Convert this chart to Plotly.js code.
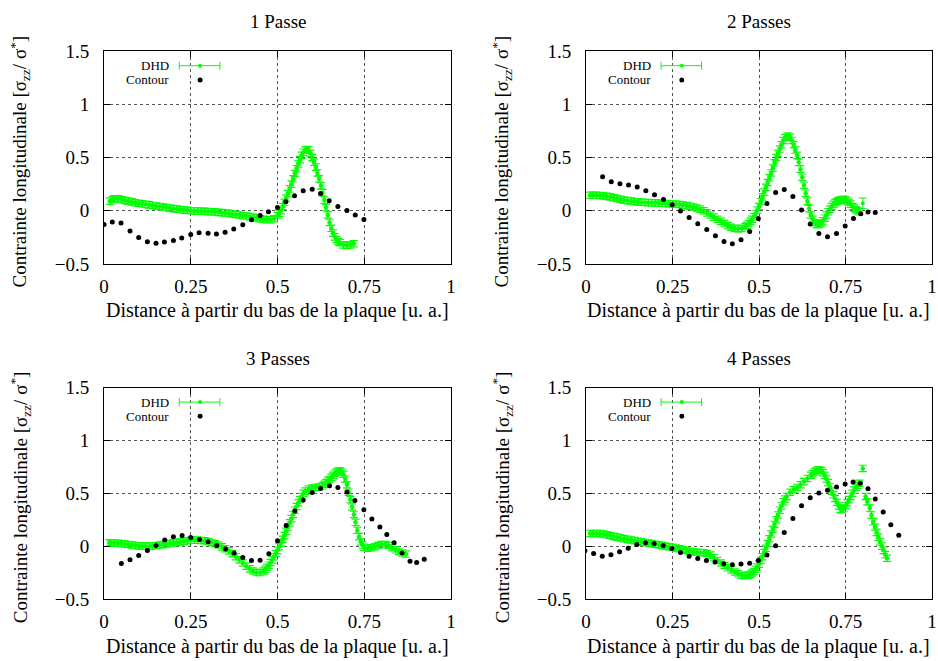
<!DOCTYPE html>
<html>
<head>
<meta charset="utf-8">
<script src="https://cdn.plot.ly/plotly-3.0.1.min.js"></script>
<style>html,body{margin:0;padding:0;background:#fff;}#chart{width:938px;height:661px;}</style>
</head>
<body>
<div id="chart"></div>
<script>
// ---------- data ----------
const panelTitles = ["1 Passe", "2 Passes", "3 Passes", "4 Passes"];
const xTickVals = [0, 0.25, 0.5, 0.75, 1];
const xTickText = ["0", "0.25", "0.5", "0.75", "1"];
const yTickVals = [-0.5, 0, 0.5, 1, 1.5];
const yTickText = ["\u22120.5", "0", "0.5", "1", "1.5"];
const xTitle = "Distance à partir du bas de la plaque [u. a.]";
const yTitle = "Contrainte longitudinale [σ<sub>zz</sub>/ σ<sup>*</sup>]";
const legendNames = ["DHD", "Contour"];
const dhdError = 0.03;

// Panel 1
const dhd1X = [0.017,0.025,0.03,0.04,0.05,0.06,0.07,0.08,0.09,0.10,0.11,0.12,0.13,0.14,0.15,0.16,0.17,0.18,0.19,0.20,0.21,0.22,0.23,0.24,0.25,0.26,0.27,0.28,0.29,0.30,0.31,0.32,0.33,0.34,0.35,0.36,0.37,0.38,0.39,0.40,0.41,0.42,0.43,0.44,0.45,0.46,0.47,0.48,0.49,0.50,0.505,0.51,0.515,0.52,0.525,0.53,0.535,0.54,0.545,0.55,0.555,0.56,0.565,0.57,0.575,0.58,0.585,0.59,0.595,0.60,0.605,0.61,0.615,0.62,0.625,0.63,0.635,0.64,0.645,0.65,0.655,0.66,0.665,0.67,0.675,0.68,0.69,0.70,0.71,0.72];
const dhd1Y = [0.09,0.105,0.113,0.113,0.105,0.097,0.09,0.083,0.075,0.07,0.065,0.06,0.055,0.05,0.045,0.04,0.035,0.03,0.025,0.02,0.015,0.011,0.008,0.004,0.0,-0.002,-0.003,-0.004,-0.005,-0.008,-0.01,-0.012,-0.015,-0.018,-0.02,-0.025,-0.03,-0.035,-0.04,-0.045,-0.05,-0.055,-0.06,-0.068,-0.075,-0.08,-0.085,-0.085,-0.075,-0.045,-0.025,0.0,0.04,0.08,0.12,0.16,0.205,0.25,0.30,0.35,0.395,0.44,0.48,0.52,0.55,0.57,0.575,0.57,0.54,0.50,0.455,0.41,0.355,0.30,0.235,0.17,0.10,0.03,-0.04,-0.11,-0.165,-0.21,-0.245,-0.27,-0.29,-0.30,-0.32,-0.325,-0.32,-0.31];
const con1X = [0.0,0.024,0.049,0.075,0.10,0.125,0.15,0.174,0.20,0.224,0.25,0.274,0.30,0.324,0.349,0.374,0.40,0.425,0.45,0.474,0.50,0.524,0.549,0.574,0.60,0.624,0.649,0.674,0.70,0.724,0.749];
const con1Y = [-0.128,-0.106,-0.116,-0.19,-0.25,-0.29,-0.306,-0.294,-0.28,-0.256,-0.222,-0.206,-0.212,-0.219,-0.203,-0.172,-0.131,-0.084,-0.044,-0.009,0.031,0.084,0.14,0.188,0.203,0.163,0.094,0.04,0.003,-0.04,-0.081];

// Panel 2
const dhd2X = [0.012,0.02,0.03,0.04,0.05,0.06,0.07,0.08,0.09,0.10,0.11,0.12,0.13,0.14,0.15,0.16,0.17,0.18,0.19,0.20,0.21,0.22,0.23,0.24,0.25,0.26,0.27,0.28,0.29,0.30,0.31,0.32,0.33,0.34,0.35,0.36,0.37,0.38,0.39,0.40,0.41,0.42,0.43,0.44,0.45,0.46,0.465,0.47,0.475,0.48,0.485,0.49,0.495,0.50,0.505,0.51,0.515,0.52,0.525,0.53,0.535,0.54,0.545,0.55,0.555,0.56,0.565,0.57,0.575,0.58,0.585,0.59,0.595,0.60,0.605,0.61,0.615,0.62,0.625,0.63,0.635,0.64,0.645,0.65,0.655,0.66,0.665,0.67,0.675,0.68,0.685,0.69,0.695,0.70,0.705,0.71,0.715,0.72,0.725,0.73,0.735,0.74,0.745,0.75,0.755,0.76,0.765,0.77,0.775,0.78,0.785,0.79];
const dhd2Y = [0.145,0.145,0.145,0.143,0.14,0.135,0.13,0.122,0.115,0.107,0.10,0.095,0.09,0.086,0.083,0.08,0.078,0.076,0.075,0.074,0.072,0.07,0.068,0.066,0.064,0.061,0.058,0.053,0.048,0.042,0.035,0.026,0.015,0.0,-0.02,-0.04,-0.06,-0.08,-0.10,-0.12,-0.14,-0.155,-0.165,-0.17,-0.165,-0.15,-0.137,-0.12,-0.10,-0.08,-0.055,-0.03,0.005,0.04,0.085,0.13,0.175,0.22,0.265,0.31,0.355,0.40,0.45,0.50,0.54,0.58,0.62,0.66,0.685,0.70,0.70,0.69,0.66,0.62,0.57,0.52,0.455,0.39,0.315,0.24,0.165,0.09,0.02,-0.04,-0.08,-0.11,-0.125,-0.13,-0.125,-0.115,-0.095,-0.07,-0.04,-0.01,0.015,0.04,0.06,0.075,0.087,0.095,0.10,0.105,0.105,0.10,0.092,0.08,0.062,0.04,0.025,0.01,0.0,-0.01];
const dhd2ExtraX = [0.80];
const dhd2ExtraY = [0.07];
const dhd2ExtraErr = [0.05];
const con2X = [0.048,0.073,0.098,0.123,0.148,0.173,0.198,0.224,0.249,0.273,0.298,0.323,0.349,0.374,0.399,0.423,0.448,0.473,0.498,0.523,0.548,0.573,0.598,0.623,0.648,0.673,0.698,0.724,0.749,0.773,0.794,0.815,0.836];
const con2Y = [0.319,0.272,0.253,0.241,0.222,0.188,0.15,0.106,0.056,-0.003,-0.063,-0.122,-0.175,-0.234,-0.288,-0.309,-0.272,-0.194,-0.072,0.069,0.172,0.20,0.134,0.006,-0.125,-0.213,-0.244,-0.213,-0.144,-0.072,-0.028,-0.012,-0.016];

// Panel 3
const dhd3X = [0.015,0.02,0.03,0.04,0.05,0.06,0.07,0.08,0.09,0.10,0.11,0.12,0.13,0.14,0.15,0.16,0.17,0.18,0.19,0.20,0.21,0.22,0.23,0.24,0.25,0.26,0.27,0.28,0.29,0.30,0.31,0.32,0.33,0.34,0.35,0.36,0.37,0.38,0.39,0.40,0.41,0.42,0.43,0.44,0.45,0.46,0.465,0.47,0.475,0.48,0.485,0.49,0.495,0.50,0.505,0.51,0.515,0.52,0.525,0.53,0.535,0.54,0.545,0.55,0.555,0.56,0.565,0.57,0.575,0.58,0.59,0.60,0.61,0.62,0.63,0.635,0.64,0.645,0.65,0.655,0.66,0.665,0.67,0.675,0.68,0.685,0.69,0.695,0.70,0.705,0.71,0.715,0.72,0.725,0.73,0.735,0.74,0.745,0.75,0.76,0.77,0.78,0.79,0.80,0.81,0.82,0.83,0.84,0.85,0.86,0.87];
const dhd3Y = [0.03,0.03,0.03,0.028,0.025,0.02,0.015,0.01,0.005,0.002,0.0,0.0,0.0,0.002,0.005,0.01,0.015,0.02,0.025,0.03,0.035,0.04,0.045,0.05,0.055,0.057,0.057,0.054,0.05,0.043,0.035,0.023,0.01,-0.007,-0.025,-0.045,-0.07,-0.10,-0.13,-0.16,-0.19,-0.215,-0.235,-0.25,-0.25,-0.235,-0.22,-0.20,-0.18,-0.155,-0.13,-0.10,-0.07,-0.04,-0.005,0.03,0.065,0.10,0.14,0.18,0.22,0.26,0.30,0.34,0.375,0.41,0.44,0.47,0.50,0.52,0.54,0.55,0.555,0.56,0.57,0.585,0.60,0.615,0.63,0.65,0.67,0.69,0.70,0.71,0.71,0.70,0.68,0.635,0.58,0.51,0.44,0.37,0.30,0.225,0.15,0.09,0.04,0.01,-0.01,-0.02,-0.015,-0.005,0.005,0.015,0.015,0.005,-0.015,-0.035,-0.05,-0.065,-0.075];
const con3X = [0.05,0.075,0.10,0.125,0.15,0.175,0.20,0.225,0.25,0.275,0.30,0.325,0.35,0.375,0.40,0.425,0.45,0.475,0.50,0.525,0.55,0.574,0.60,0.624,0.65,0.674,0.70,0.723,0.749,0.772,0.795,0.815,0.836,0.859,0.882,0.901,0.923];
const con3Y = [-0.164,-0.129,-0.088,-0.041,0.006,0.057,0.088,0.101,0.082,0.063,0.041,0.006,-0.028,-0.066,-0.107,-0.136,-0.133,-0.073,0.05,0.196,0.331,0.435,0.508,0.546,0.571,0.555,0.511,0.432,0.344,0.256,0.18,0.11,0.032,-0.066,-0.142,-0.155,-0.123];

// Panel 4
const dhd4X = [0.012,0.02,0.03,0.04,0.05,0.06,0.07,0.08,0.09,0.10,0.11,0.12,0.13,0.14,0.15,0.16,0.17,0.18,0.19,0.20,0.21,0.22,0.23,0.24,0.25,0.26,0.27,0.28,0.29,0.30,0.31,0.32,0.33,0.34,0.35,0.36,0.37,0.38,0.39,0.40,0.41,0.42,0.43,0.44,0.45,0.46,0.47,0.475,0.48,0.485,0.49,0.495,0.50,0.505,0.51,0.515,0.52,0.525,0.53,0.535,0.54,0.545,0.55,0.555,0.56,0.565,0.57,0.575,0.58,0.59,0.60,0.61,0.62,0.63,0.64,0.65,0.655,0.66,0.665,0.67,0.675,0.68,0.685,0.69,0.695,0.70,0.705,0.71,0.715,0.72,0.725,0.73,0.735,0.74,0.745,0.75,0.755,0.76,0.765,0.77,0.775,0.78,0.785,0.79,0.80,0.808,0.813,0.82,0.825,0.83,0.835,0.84,0.845,0.85,0.855,0.86,0.865,0.87];
const dhd4Y = [0.12,0.12,0.12,0.118,0.115,0.108,0.10,0.092,0.085,0.078,0.07,0.064,0.058,0.052,0.045,0.04,0.035,0.03,0.025,0.018,0.012,0.006,0.0,-0.006,-0.012,-0.018,-0.025,-0.032,-0.04,-0.048,-0.055,-0.058,-0.06,-0.062,-0.07,-0.085,-0.11,-0.135,-0.16,-0.183,-0.205,-0.225,-0.245,-0.262,-0.275,-0.28,-0.275,-0.267,-0.255,-0.24,-0.22,-0.197,-0.17,-0.135,-0.10,-0.06,-0.02,0.025,0.07,0.115,0.16,0.205,0.25,0.295,0.34,0.38,0.42,0.445,0.47,0.51,0.535,0.555,0.58,0.61,0.64,0.67,0.685,0.70,0.71,0.72,0.72,0.715,0.695,0.67,0.635,0.60,0.56,0.52,0.485,0.45,0.415,0.38,0.35,0.345,0.36,0.385,0.41,0.44,0.47,0.50,0.53,0.555,0.575,0.595,0.735,0.47,0.42,0.36,0.295,0.23,0.18,0.13,0.085,0.04,0.0,-0.04,-0.08,-0.115];
const con4X = [-0.003,0.022,0.047,0.072,0.097,0.122,0.147,0.172,0.197,0.223,0.248,0.273,0.298,0.323,0.348,0.373,0.398,0.423,0.448,0.473,0.498,0.523,0.548,0.573,0.598,0.623,0.648,0.673,0.698,0.724,0.749,0.772,0.793,0.815,0.836,0.859,0.881,0.904];
const con4Y = [-0.044,-0.069,-0.095,-0.082,-0.054,-0.019,0.016,0.032,0.025,0.006,-0.022,-0.06,-0.095,-0.117,-0.136,-0.151,-0.167,-0.177,-0.17,-0.161,-0.136,-0.085,0.003,0.129,0.262,0.382,0.457,0.502,0.528,0.559,0.588,0.607,0.594,0.543,0.445,0.322,0.202,0.104];

// ---------- styling ----------
const GREEN = "#00ff00";
const FONT = "'Liberation Serif', 'Times New Roman', serif";
const W = 938, H = 661;
const colDomains = [[104 / W, 451 / W], [586 / W, 932 / W]];
const rowDomains = [[1 - 264 / H, 1 - 51 / H], [1 - 599 / H, 1 - 387.5 / H]];
const panels = [
  {dx: dhd1X, dy: dhd1Y, cx: con1X, cy: con1Y, col: 0, row: 0},
  {dx: dhd2X, dy: dhd2Y, cx: con2X, cy: con2Y, col: 1, row: 0, ex: dhd2ExtraX, ey: dhd2ExtraY, ee: dhd2ExtraErr},
  {dx: dhd3X, dy: dhd3Y, cx: con3X, cy: con3Y, col: 0, row: 1},
  {dx: dhd4X, dy: dhd4Y, cx: con4X, cy: con4Y, col: 1, row: 1}
];

const traces = [];
const layout = {
  width: W, height: H,
  margin: {l: 0, r: 0, t: 0, b: 0},
  paper_bgcolor: "#fff", plot_bgcolor: "#fff",
  showlegend: false,
  font: {family: FONT, color: "#000", size: 19},
  annotations: [], shapes: []
};

panels.forEach((p, i) => {
  const n = i + 1;
  const xa = n === 1 ? "x" : "x" + n;
  const ya = n === 1 ? "y" : "y" + n;
  traces.push({
    x: p.dx, y: p.dy, xaxis: xa, yaxis: ya, type: "scatter", mode: "markers",
    name: legendNames[0], marker: {color: GREEN, size: 4.5},
    error_y: {type: "constant", value: dhdError, color: GREEN, thickness: 1.2, width: 4}
  });
  if (p.ex) {
    traces.push({
      x: p.ex, y: p.ey, xaxis: xa, yaxis: ya, type: "scatter", mode: "markers",
      name: legendNames[0], marker: {color: GREEN, size: 4},
      error_y: {type: "data", array: p.ee, color: GREEN, thickness: 1, width: 4}
    });
  }
  traces.push({
    x: p.cx, y: p.cy, xaxis: xa, yaxis: ya, type: "scatter", mode: "markers",
    name: legendNames[1], marker: {color: "#000", size: 5}
  });
  const axCommon = {
    showline: true, linecolor: "#000", linewidth: 1, mirror: "allticks",
    ticks: "inside", ticklen: 6, tickcolor: "#000", tickwidth: 1,
    showgrid: true, gridcolor: "#555", griddash: "dot", gridwidth: 1,
    zeroline: false, tickfont: {family: FONT, size: 19, color: "#000"},
    fixedrange: true
  };
  layout["xaxis" + (n === 1 ? "" : n)] = Object.assign({}, axCommon, {
    domain: colDomains[p.col], anchor: ya, range: [0, 1],
    tickmode: "array", tickvals: xTickVals, ticktext: xTickText, ticklabelstandoff: 5
  });
  layout["yaxis" + (n === 1 ? "" : n)] = Object.assign({}, axCommon, {
    domain: rowDomains[p.row], anchor: xa, range: [-0.5, 1.5],
    tickmode: "array", tickvals: yTickVals, ticktext: yTickText, ticklabelstandoff: 10
  });

  const dom = colDomains[p.col], rdom = rowDomains[p.row];
  const cx = (dom[0] + dom[1]) / 2;
  const topPx = p.row === 0 ? 51 : 387.5;
  const botPx = p.row === 0 ? 264 : 599;
  const leftPx = dom[0] * W;
  // panel title
  layout.annotations.push({
    text: panelTitles[i], xref: "paper", yref: "paper", x: cx, y: 1 - (topPx - 29) / H,
    xanchor: "center", yanchor: "middle", showarrow: false, font: {family: FONT, size: 19}
  });
  // x title
  layout.annotations.push({
    text: xTitle, xref: "paper", yref: "paper", x: cx, y: 1 - (botPx + 47) / H,
    xanchor: "center", yanchor: "middle", showarrow: false, font: {family: FONT, size: 20}
  });
  // y title
  layout.annotations.push({
    text: yTitle, xref: "paper", yref: "paper", x: (leftPx - 84) / W, y: 1 - ((topPx + botPx) / 2 + 4) / H,
    xanchor: "center", yanchor: "middle", textangle: -90, showarrow: false, font: {family: FONT, size: 19}
  });
  // legend (gnuplot style: text then sample)
  const xd = xa + " domain", yd = ya + " domain";
  const ly1 = 0.931, ly2 = 0.864;
  const capH = 4 / 213;
  layout.annotations.push({
    text: legendNames[0], xref: xd, yref: yd, x: 0.193, y: ly1, xanchor: "right", yanchor: "middle",
    showarrow: false, font: {family: FONT, size: 13}
  });
  layout.annotations.push({
    text: legendNames[1], xref: xd, yref: yd, x: 0.193, y: ly2, xanchor: "right", yanchor: "middle",
    showarrow: false, font: {family: FONT, size: 13}
  });
  layout.shapes.push({type: "line", xref: xd, yref: yd, x0: 0.217, x1: 0.334, y0: ly1, y1: ly1, line: {color: GREEN, width: 1}});
  layout.shapes.push({type: "line", xref: xd, yref: yd, x0: 0.217, x1: 0.217, y0: ly1 - capH, y1: ly1 + capH, line: {color: GREEN, width: 1}});
  layout.shapes.push({type: "line", xref: xd, yref: yd, x0: 0.334, x1: 0.334, y0: ly1 - capH, y1: ly1 + capH, line: {color: GREEN, width: 1}});
  layout.shapes.push({type: "circle", xref: xd, yref: yd, x0: 0.277 - 2 / 347, x1: 0.277 + 2 / 347, y0: ly1 - 2 / 213, y1: ly1 + 2 / 213, fillcolor: GREEN, line: {width: 0}});
  layout.shapes.push({type: "circle", xref: xd, yref: yd, x0: 0.277 - 2.5 / 347, x1: 0.277 + 2.5 / 347, y0: ly2 - 2.5 / 213, y1: ly2 + 2.5 / 213, fillcolor: "#000", line: {width: 0}});
});

Plotly.newPlot("chart", traces, layout, {staticPlot: true, displayModeBar: false});
</script>
</body>
</html>
